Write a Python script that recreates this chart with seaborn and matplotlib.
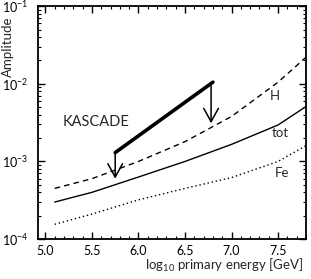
import numpy as np
import pandas as pd
import matplotlib
matplotlib.use("Agg")
import matplotlib.pyplot as plt
from matplotlib.ticker import MultipleLocator, LogLocator
import seaborn as sns

sns.set_theme(style="ticks", context="paper")
plt.rcParams['font.family'] = ['Lato', 'DejaVu Sans']
plt.rcParams['mathtext.fontset'] = 'custom'
plt.rcParams['mathtext.rm'] = 'Lato'
plt.rcParams['axes.linewidth'] = 1.3
plt.rcParams['axes.edgecolor'] = 'black'

# model curves (log10 E in GeV vs amplitude)
energy = [5.1, 5.5, 6.0, 6.5, 7.0, 7.5, 7.8]
amp_H = [4.5e-4, 6.0e-4, 1.0e-3, 1.8e-3, 3.8e-3, 1.05e-2, 2.2e-2]
amp_tot = [3.0e-4, 4.0e-4, 6.3e-4, 1.0e-3, 1.66e-3, 2.95e-3, 5.1e-3]
amp_Fe = [1.55e-4, 2.1e-4, 3.2e-4, 4.5e-4, 6.2e-4, 1.0e-3, 1.6e-3]

# KASCADE upper limits
kas_energy = [5.75, 6.8]
kas_amp = [1.3e-3, 1.05e-2]
arrow_x = [5.75, 6.78]
arrow_from = [1.3e-3, 1.0e-2]
arrow_to = [6.0e-4, 3.1e-3]

df = pd.DataFrame({"E": energy, "H": amp_H, "tot": amp_tot, "Fe": amp_Fe})
kas = pd.DataFrame({"E": kas_energy, "A": kas_amp})

fig = plt.figure(figsize=(3.11, 2.79), dpi=100)
ax = fig.add_axes([0.122, 0.143, 0.862, 0.835])

sns.lineplot(data=df, x="E", y="H", ax=ax, color="black", lw=1.0, linestyle=(0, (4, 3)))
sns.lineplot(data=df, x="E", y="tot", ax=ax, color="black", lw=1.0)
sns.lineplot(data=df, x="E", y="Fe", ax=ax, color="black", lw=1.0, linestyle=(0, (1, 2)))
sns.lineplot(data=kas, x="E", y="A", ax=ax, color="black", lw=2.6)

for x, y0, y1 in zip(arrow_x, arrow_from, arrow_to):
    ax.annotate("", xy=(x, y1), xytext=(x, y0),
                arrowprops=dict(arrowstyle="->,head_length=1.0,head_width=0.55",
                                color="black", lw=1.1, shrinkA=0, shrinkB=0))

ax.set_yscale("log")
ax.set_xlim(4.92, 7.8)
ax.set_ylim(1e-4, 1e-1)

ax.text(5.19, 3.2e-3, "KASCADE", fontsize=10.5, va="center", ha="left")
ax.text(7.46, 7.0e-3, "H", fontsize=9.5, va="center", ha="center")
ax.text(7.52, 2.3e-3, "tot", fontsize=9.5, va="center", ha="center")
ax.text(7.54, 7.2e-4, "Fe", fontsize=9.5, va="center", ha="center")

ax.xaxis.set_major_locator(MultipleLocator(0.5))
ax.xaxis.set_minor_locator(MultipleLocator(0.1))
ax.yaxis.set_major_locator(LogLocator(base=10))
ax.yaxis.set_minor_locator(LogLocator(base=10, subs=np.arange(2, 10)))
ax.tick_params(which="both", direction="in", top=True, right=True, labelsize=9, colors="black")
ax.tick_params(which="major", length=5, width=1.0)
ax.tick_params(which="minor", length=2.5, width=0.8)
ax.tick_params(axis="x", pad=4)
ax.tick_params(axis="y", pad=7)

ax.set_ylabel("Amplitude", fontsize=9.5, loc="top")
ax.yaxis.set_label_coords(-0.09, 0.955)
ax.set_xlabel("log$_{10}$ primary energy [GeV]", fontsize=9.5)
ax.xaxis.set_label_coords(0.695, -0.075)

fig.savefig("out.png", dpi=100)
